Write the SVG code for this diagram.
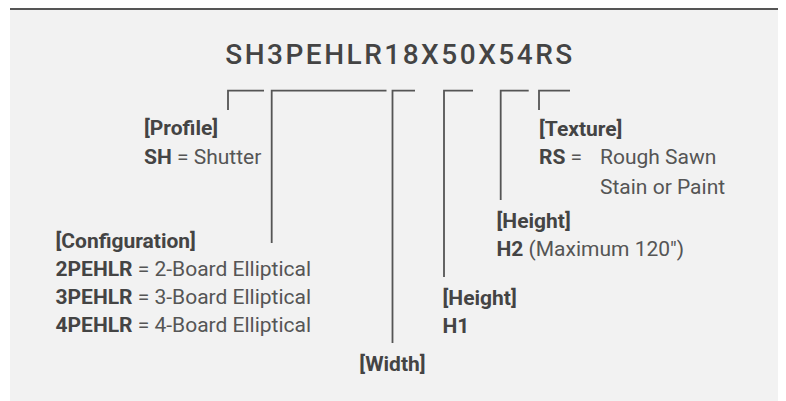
<svg xmlns="http://www.w3.org/2000/svg" width="786" height="401" viewBox="0 0 786 401">
<style>
.t{font-family:Roboto,"Liberation Sans",sans-serif;font-size:21px;fill:#555555}
.b{font-weight:700;fill:#444444}
.title{font-family:Roboto,"Liberation Sans",sans-serif;font-size:28px;font-weight:500;fill:#444444;letter-spacing:2.5px}
.c{fill:none;stroke:#555555;stroke-width:1.8}
</style>
<rect x="10" y="9" width="768" height="392" fill="#f2f2f2"/>
<line x1="10" y1="9" x2="778" y2="9" stroke="#555555" stroke-width="2"/>
<g id="title"><text class="title" x="400" y="64" text-anchor="middle">SH3PEHLR18X50X54RS</text></g>
<g id="connectors">
<path class="c" d="M228,110 V90.7 H264"/>
<path class="c" d="M271.7,243 V90.7 H386.5"/>
<path class="c" d="M392.5,343 V90.7 H415"/>
<path class="c" d="M444,277 V90.7 H473"/>
<path class="c" d="M500.7,200 V90.7 H528.7"/>
<path class="c" d="M539,110 V90.7 H570"/>
</g>
<g id="profile">
<text class="t b" x="144" y="135">[Profile]</text>
<text class="t" x="144" y="164"><tspan class="b">SH</tspan> = Shutter</text>
</g>
<g id="configuration">
<text class="t b" x="55.5" y="248">[Configuration]</text>
<text class="t" x="55.5" y="276"><tspan class="b">2PEHLR</tspan> = 2-Board Elliptical</text>
<text class="t" x="55.5" y="304"><tspan class="b">3PEHLR</tspan> = 3-Board Elliptical</text>
<text class="t" x="55.5" y="332"><tspan class="b">4PEHLR</tspan> = 4-Board Elliptical</text>
</g>
<g id="width">
<text class="t b" x="392.5" y="371" text-anchor="middle">[Width]</text>
</g>
<g id="height1">
<text class="t b" x="442.5" y="305">[Height]</text>
<text class="t b" x="442.5" y="333">H1</text>
</g>
<g id="height2">
<text class="t b" x="496.5" y="228">[Height]</text>
<text class="t" x="496.5" y="256"><tspan class="b">H2</tspan> (Maximum 120")</text>
</g>
<g id="texture">
<text class="t b" x="539" y="136">[Texture]</text>
<text class="t" x="539" y="164"><tspan class="b">RS</tspan> =</text>
<text class="t" x="600" y="164">Rough Sawn</text>
<text class="t" x="600" y="194">Stain or Paint</text>
</g>
</svg>
